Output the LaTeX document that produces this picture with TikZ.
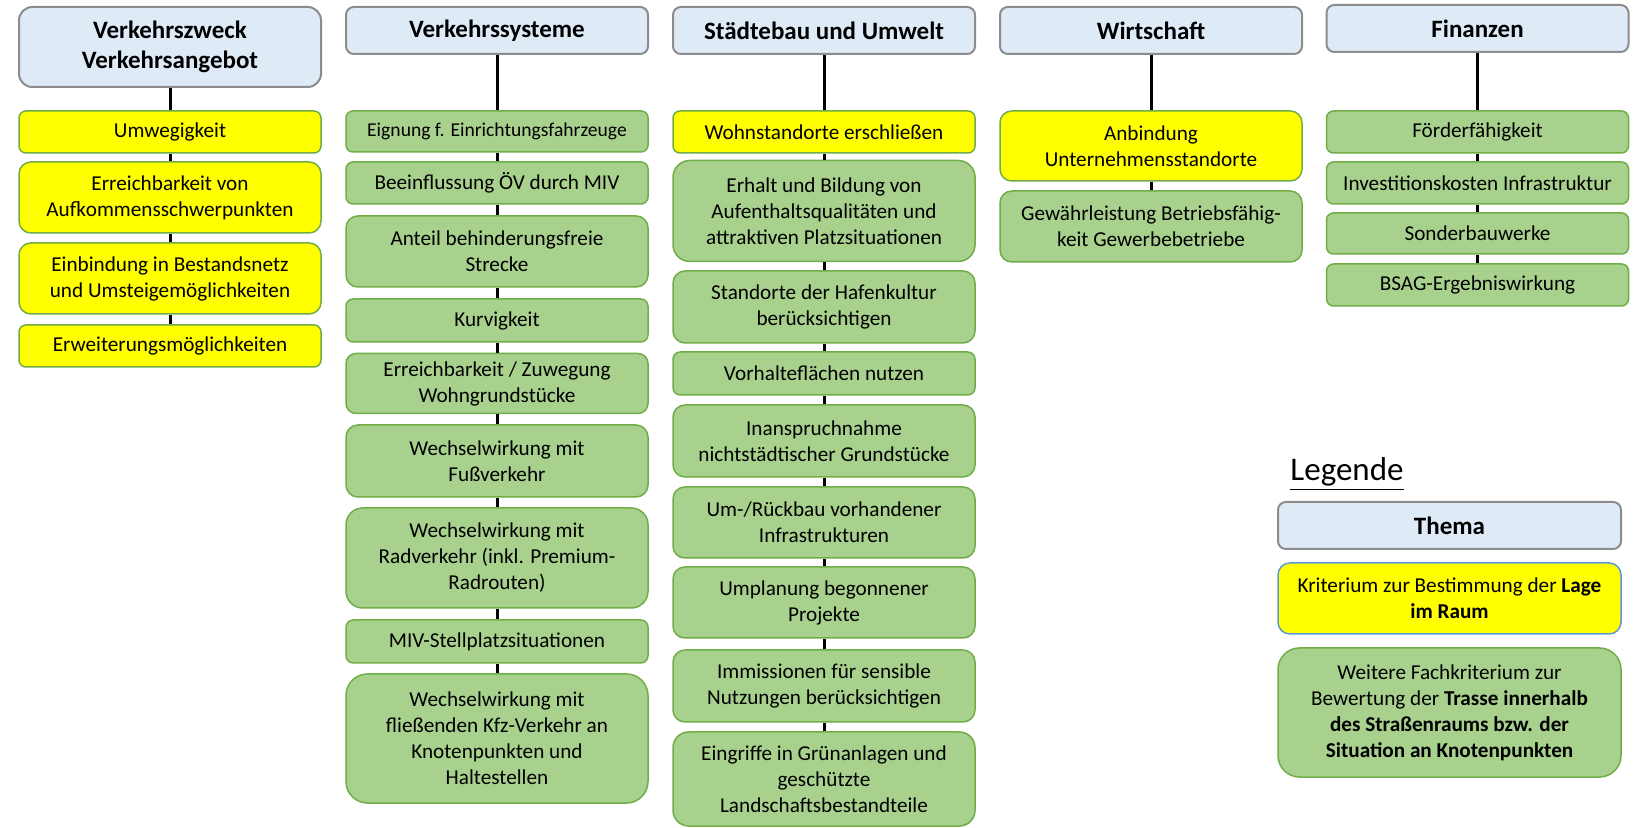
\documentclass[tikz,border=0pt]{standalone}
\usepackage{fontspec}
\setmainfont{Carlito}
\usepackage{tikz}
\usetikzlibrary{positioning}
\definecolor{themafill}{HTML}{DEEBF7}
\definecolor{themarand}{HTML}{8C8C8C}
\definecolor{gelb}{HTML}{FFFF00}
\definecolor{gruen}{HTML}{A9D18E}
\definecolor{gruenrand}{HTML}{70AD47}
\definecolor{blaurand}{HTML}{5B9BD5}

\begin{document}
\begin{tikzpicture}[x=0.5pt,y=-0.5pt,
  kasten/.style={rounded corners=#1*0.0833pt,minimum height=#1*0.5pt,minimum width=151pt,inner sep=0pt,align=center,font=\fontsize{10.6}{13}\selectfont},
  thema/.style={kasten=#1,draw=themarand,fill=themafill,line width=1pt,font=\bfseries\fontsize{12.5}{15}\selectfont},
  lage/.style={kasten=#1,draw=gruenrand,fill=gelb,line width=0.75pt},
  fach/.style={kasten=#1,draw=gruenrand,fill=gruen,line width=0.75pt},
  linie/.style={line width=1.5pt}]
  \useasboundingbox (0,0) rectangle (1635,828);

  % Verkehrszweck
  \node at(170,47)[thema=80](vz){Verkehrszweck\\Verkehrsangebot};
  \node at(170,132)[lage=42](vz1){Umwegigkeit};
  \node at(170,197.5)[lage=71](vz2){Erreichbarkeit von\\Aufkommensschwerpunkten};
  \node at(170,278.5)[lage=71](vz3){Einbindung in Bestandsnetz\\und Umsteigemöglichkeiten};
  \node at(170,346)[lage=42](vz4){Erweiterungsmöglichkeiten};

  % Verkehrssysteme
  \node at(497,30.5)[thema=47](vs){Verkehrssysteme};
  \node at(497,131.5)[fach=41,font=\fontsize{9.8}{12}\selectfont](vs1){Eignung f. Einrichtungsfahrzeuge};
  \node at(497,183)[fach=42](vs2){Beeinflussung ÖV durch MIV};
  \node at(497,251.5)[fach=71](vs3){Anteil behinderungsfreie\\Strecke};
  \node at(497,320.5)[fach=43](vs4){Kurvigkeit};
  \node at(497,383.5)[fach=60](vs5){Erreichbarkeit / Zuwegung\\Wohngrundstücke};
  \node at(497,461)[fach=72](vs6){Wechselwirkung mit\\Fußverkehr};
  \node at(497,558)[fach=100](vs7){Wechselwirkung mit\\Radverkehr (inkl. Premium-\\Radrouten)};
  \node at(497,641.5)[fach=43](vs8){MIV-Stellplatzsituationen};
  \node at(497,738.5)[fach=129](vs9){Wechselwirkung mit\\fließenden Kfz-Verkehr an\\Knotenpunkten und\\Haltestellen};

  % Staedtebau und Umwelt
  \node at(824,30.5)[thema=47](su){Städtebau und Umwelt};
  \node at(824,132)[lage=42](su1){Wohnstandorte erschließen};
  \node at(824,211)[fach=101](su2){Erhalt und Bildung von\\Aufenthaltsqualitäten und\\attraktiven Platzsituationen};
  \node at(824,307)[fach=72](su3){Standorte der Hafenkultur\\berücksichtigen};
  \node at(824,373.5)[fach=43](su4){Vorhalteflächen nutzen};
  \node at(824,441)[fach=72](su5){Inanspruchnahme\\nichtstädtischer Grundstücke};
  \node at(824,522.5)[fach=71](su6){Um-/Rückbau vorhandener\\Infrastrukturen};
  \node at(824,602.5)[fach=71](su7){Umplanung begonnener\\Projekte};
  \node at(824,686)[fach=72](su8){Immissionen für sensible\\Nutzungen berücksichtigen};
  \node at(824,779)[fach=94](su9){Eingriffe in Grünanlagen und\\geschützte\\Landschaftsbestandteile};

  % Wirtschaft
  \node at(1151,30.5)[thema=47](wi){Wirtschaft};
  \node at(1151,146)[lage=70](wi1){Anbindung\\Unternehmensstandorte};
  \node at(1151,226.5)[fach=71](wi2){Gewährleistung Betriebsfähig-\\keit Gewerbebetriebe};

  % Finanzen
  \node at(1477.5,28.5)[thema=47](fi){Finanzen};
  \node at(1477.5,132)[fach=42](fi1){Förderfähigkeit};
  \node at(1477.5,183)[fach=42](fi2){Investitionskosten Infrastruktur};
  \node at(1477.5,233.5)[fach=41](fi3){Sonderbauwerke};
  \node at(1477.5,285)[fach=42](fi4){BSAG-Ergebniswirkung};

  \foreach \a/\b in {vz/vz1,vz1/vz2,vz2/vz3,vz3/vz4,
    vs/vs1,vs1/vs2,vs2/vs3,vs3/vs4,vs4/vs5,vs5/vs6,vs6/vs7,vs7/vs8,vs8/vs9,
    su/su1,su1/su2,su2/su3,su3/su4,su4/su5,su5/su6,su6/su7,su7/su8,su8/su9,
    wi/wi1,wi1/wi2,
    fi/fi1,fi1/fi2,fi2/fi3,fi3/fi4}
    \draw[linie](\a.south) -- (\b.north);

  % Legende
  \node at(1347,474)(legende){\fontsize{16.5}{19}\selectfont\underline{Legende}};
  \node at(1449.5,525.5)[thema=47,minimum width=171.5pt](lthema){Thema};
  \node at(1449.5,598.5)[lage=71,draw=blaurand,minimum width=171.5pt](llage){Kriterium zur Bestimmung der \textbf{Lage}\\\textbf{im Raum}};
  \node at(1449.5,712.5)[fach=129,minimum width=171.5pt](lfach){Weitere Fachkriterium zur\\Bewertung der \textbf{Trasse innerhalb}\\\textbf{des Straßenraums bzw. der}\\\textbf{Situation an Knotenpunkten}};
\end{tikzpicture}
\end{document}
